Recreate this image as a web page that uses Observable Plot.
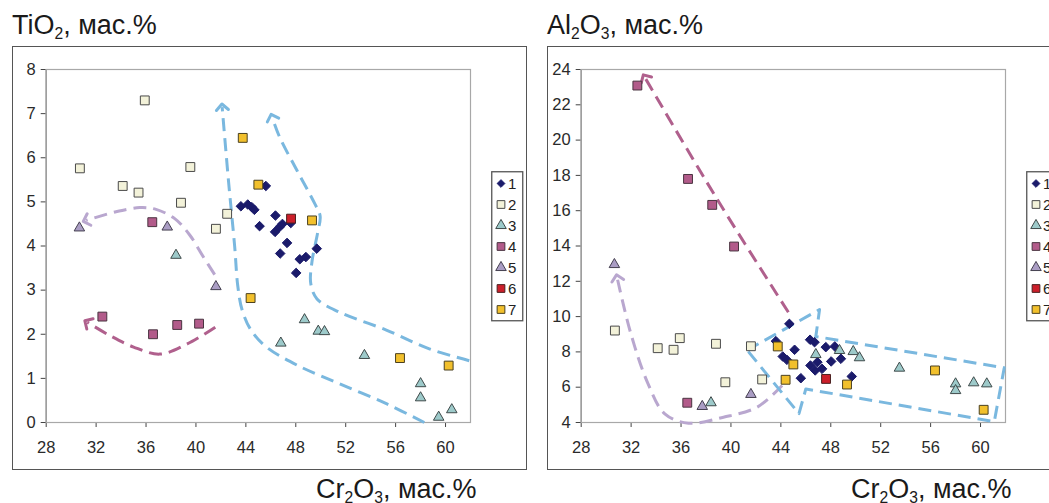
<!DOCTYPE html>
<html><head><meta charset="utf-8">
<script src="https://cdn.jsdelivr.net/npm/d3@7"></script>
<script src="https://cdn.jsdelivr.net/npm/@observablehq/plot@0.6"></script>
<style>
html,body{margin:0;padding:0;background:#fff;overflow:hidden;}
#root{position:relative;width:1049px;height:503px;overflow:hidden;font-family:"Liberation Sans",Arial,sans-serif;color:#1a1a1a;}
.frame{position:absolute;border:1.5px solid #555;box-sizing:border-box;pointer-events:none;}
.title{position:absolute;font-size:27px;line-height:1;white-space:nowrap;}
.title sub{font-size:58%;vertical-align:baseline;position:relative;top:0.32em;}
.chart{position:absolute;}
.legend{position:absolute;}
</style></head><body><div id="root"></div>
<script>
// ---- data: Cr2O3 (x), TiO2 (left chart y), Al2O3 (right chart y) ----
const seriesLabels = ["1","2","3","4","5","6","7"];
const cr1 = [43.6,44.15,44.48,44.68,45.1,45.6,46.34,46.37,46.7,46.75,46.93,47.3,47.6,48.03,48.32,48.81,49.68];
const ti1 = [4.90,4.94,4.88,4.82,4.45,5.36,4.32,4.69,4.43,3.83,4.50,4.07,4.52,3.39,3.70,3.75,3.94];
const al1 = [8.61,7.74,7.55,9.59,8.12,6.51,8.69,7.23,8.55,6.95,7.42,7.04,8.27,7.46,8.31,7.61,6.61];
const cr2 = [30.7,34.13,35.4,35.9,38.8,39.55,41.6,42.5];
const ti2 = [5.76,5.36,5.21,7.30,4.98,5.79,4.39,4.73];
const al2 = [9.21,8.21,8.12,8.78,8.46,6.28,8.32,6.44];
const cr3 = [38.4,46.8,48.7,49.8,50.3,53.5,58.0,58.0,59.45,60.5];
const ti3 = [3.79,1.80,2.33,2.07,2.06,1.52,0.88,0.56,0.12,0.29];
const al3 = [5.12,7.85,8.08,8.02,7.67,7.08,6.19,5.81,6.25,6.19];
const cr4 = [32.5,36.5,36.56,38.5,40.25];
const ti4 = [2.40,4.54,2.00,2.21,2.24];
const al4 = [23.09,5.12,17.8,16.33,13.97];
const cr5 = [30.66,37.7,41.6];
const ti5 = [4.41,4.43,3.08];
const al5 = [12.95,4.91,5.59];
const cr6 = [47.62];
const ti6 = [4.62];
const al6 = [6.47];
const cr7 = [43.75,45.0,44.38,49.3,56.35,60.25];
const ti7 = [6.45,5.39,2.82,4.58,1.46,1.29];
const al7 = [8.31,7.29,6.42,6.15,6.95,4.72];

// axis ticks
const xTicks = [28,32,36,40,44,48,52,56,60];
const tiTicks = [0,1,2,3,4,5,6,7,8];
const alTicks = [4,6,8,10,12,14,16,18,20,22,24];

// trend guides (data coordinates: [Cr2O3, oxide])
const tiBlueA = [[58.3,0.0],[55.3,0.42],[51.5,0.88],[48.1,1.3],[45.6,1.72],[44.4,2.1],[43.7,2.55],[43.35,3.1],[43.1,4.0],[42.6,5.5],[42.1,7.15]];
const tiBlueB = [[61.9,1.4],[58.7,1.67],[55.3,2.09],[51.5,2.5],[49.7,2.8],[49.2,3.15],[49.3,3.65],[49.75,4.3],[49.95,4.68],[49.5,4.97],[48.1,5.71],[46.7,6.47],[46.1,6.92]];
const tiPurple = [[41.5,3.35],[40.6,3.75],[39.5,4.25],[38.3,4.62],[36.8,4.83],[35.5,4.87],[33.5,4.77],[31.2,4.58]];
const tiMauve = [[41.55,2.16],[39.3,1.78],[37.1,1.55],[35.0,1.71],[33.1,1.97],[31.3,2.27]];
const alMauve = [[44.6,10.25],[38.85,16.7],[33.1,23.55]];
const alPurple = [[44.1,6.1],[42.1,4.87],[39.4,4.3],[36.6,3.96],[34.7,4.49],[33.36,6.19],[31.98,9.03],[30.88,12.2]];
const alBlue = [[41.3,8.1],[47.1,10.4],[46.8,8.87],[61.9,7.1],[61.1,4.05],[46.0,5.9],[45.45,4.5],[41.3,8.1]];

// ---- styles ----
const styles = [
  {symbol:"diamond2", r:4.3, fill:"#1b1b6b", stroke:"#1b1b6b"},
  {symbol:"square", r:5, fill:"#f3f2d9", stroke:"#4a4a4a"},
  {symbol:"triangle", r:3.9, fill:"#9dcaca", stroke:"#3f4a4a"},
  {symbol:"square", r:5, fill:"#b25b8a", stroke:"#4a3440"},
  {symbol:"triangle", r:3.9, fill:"#aa9dc4", stroke:"#454050"},
  {symbol:"square", r:5, fill:"#cc1f2a", stroke:"#4a2020"},
  {symbol:"square", r:5, fill:"#f2c02c", stroke:"#4a4020"}
];
const BLUE = "#7ab8df", PURPLE = "#b9a7cf", MAUVE = "#b0608d";

const root = document.getElementById("root");

function pts(xs, ys){ return xs.map((x,i)=>({x, y: ys[i]})); }

function guide(p, color, curve, arrow){
  return Plot.line(p, {x:d=>d[0], y:d=>d[1], stroke:color, strokeWidth:3, strokeDasharray:"13,7",
    curve, markerEnd: arrow ? "arrow" : "none", strokeLinecap:"butt"});
}

function makeChart(left, ySeries, yDomain, yTicks, guides){
  const dots = ySeries.map(([xs, ys], k) => Plot.dot(pts(xs, ys), {x:"x", y:"y", symbol:styles[k].symbol, r:styles[k].r,
    fill:styles[k].fill, stroke:styles[k].stroke, strokeWidth:1}));
  const svg = Plot.plot({
    width:514, height:423,
    marginLeft:33.7, marginRight:56, marginTop:23, marginBottom:47,
    style:{fontFamily:"'Liberation Sans', Arial, sans-serif", fontSize:"16.5px", color:"#444", background:"transparent", overflow:"visible"},
    x:{domain:[28,62], ticks:xTicks, tickSize:5, tickPadding:14, label:null, line:true, tickFormat:d=>String(d)},
    y:{domain:yDomain, ticks:yTicks, tickSize:5, tickPadding:5.5, label:null, line:true, tickFormat:d=>String(d)},
    marks:[
      Plot.frame({stroke:"#a8a8a8", strokeWidth:1.2}),
      ...guides,
      ...dots
    ]
  });
  svg.classList.add("chart");
  svg.style.left = left + "px";
  svg.style.top = "46px";
  root.appendChild(svg);
  svg.querySelectorAll("text").forEach(t => { t.setAttribute("fill", "#2a2a2a"); t.setAttribute("font-size", "16.5px"); });
}

makeChart(12, [[cr1,ti1],[cr2,ti2],[cr3,ti3],[cr4,ti4],[cr5,ti5],[cr6,ti6],[cr7,ti7]], [0,8], tiTicks, [
  guide(tiBlueA, BLUE, "catmull-rom", true),
  guide(tiBlueB, BLUE, "catmull-rom", true),
  guide(tiPurple, PURPLE, "catmull-rom", true),
  guide(tiMauve, MAUVE, "catmull-rom", true)
]);
makeChart(547, [[cr1,al1],[cr2,al2],[cr3,al3],[cr4,al4],[cr5,al5],[cr6,al6],[cr7,al7]], [4,24], alTicks, [
  guide(alMauve, MAUVE, "catmull-rom", true),
  guide(alPurple, PURPLE, "catmull-rom", true),
  guide(alBlue, BLUE, "linear", false)
]);

// outer frames
function frame(l, t, w, h){
  const d = document.createElement("div"); d.className = "frame";
  Object.assign(d.style, {left:l+"px", top:t+"px", width:w+"px", height:h+"px"});
  root.appendChild(d);
}
frame(12, 46, 515, 424);
frame(547, 46, 520, 424);

// legends
function legend(left, top){
  const svg = d3.create("svg").attr("class","legend").attr("width", 60).attr("height", 152)
    .style("left", left+"px").style("top", top+"px");
  svg.append("rect").attr("x",0.75).attr("y",0.75).attr("width",31).attr("height",149)
    .attr("fill","#fff").attr("stroke","#555").attr("stroke-width",1.3);
  const symMap = {diamond2:d3.symbolDiamond2, square:d3.symbolSquare, triangle:d3.symbolTriangle};
  const sizes = {diamond2:38, square:60, triangle:48};
  seriesLabels.forEach((lab, k) => {
    const y = 12.5 + 21*k;
    const s = styles[k];
    svg.append("path").attr("d", d3.symbol(symMap[s.symbol], sizes[s.symbol])())
      .attr("transform", `translate(10,${y})`).attr("fill", s.fill).attr("stroke", s.stroke).attr("stroke-width", 1);
    svg.append("text").attr("x", 17).attr("y", y).attr("dy","0.36em")
      .attr("font-family","'Liberation Sans', Arial, sans-serif").attr("font-size", 15).attr("fill","#222").text(lab);
  });
  root.appendChild(svg.node());
}
legend(491, 171);
legend(1026, 171);

// titles
function title(html, l, t){
  const d = document.createElement("div"); d.className = "title"; d.innerHTML = html;
  d.style.left = l + "px"; d.style.top = t + "px"; root.appendChild(d);
}
title("TiO<sub>2</sub>, мас.%", 12, 12);
title("Al<sub>2</sub>O<sub>3</sub>, мас.%", 547, 12);
title("Cr<sub>2</sub>O<sub>3</sub>, мас.%", 316, 476);
title("Cr<sub>2</sub>O<sub>3</sub>, мас.%", 851, 476);
</script></body></html>
